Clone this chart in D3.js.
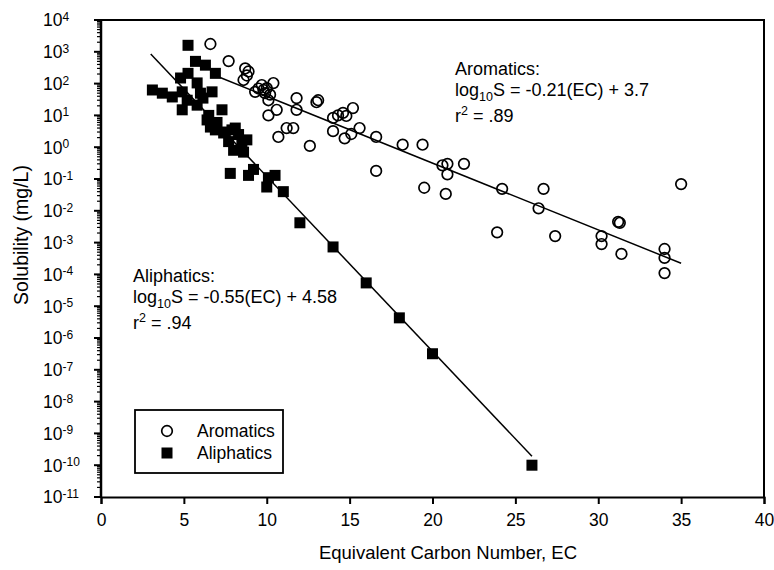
<!DOCTYPE html>
<html lang="en">
<head>
<meta charset="UTF-8">
<title>Solubility vs EC</title>
<script src="https://d3js.org/d3.v7.min.js"></script>
<style>
  body { margin: 0; background: #fff; }
  svg { font-family: "Liberation Sans", Arial, sans-serif; }
  text { fill: #000; }
</style>
</head>
<body>
<svg width="774" height="570"></svg>
<script>
// aromatics (open circles)
var aroEC = [6.6, 7.7, 8.7, 8.9, 8.8, 8.6, 9.3, 9.7, 9.8, 9.9, 10.0, 10.4, 10.1, 10.6, 10.1, 9.5, 10.2,
  11.8, 11.8, 13.0, 13.1, 10.7, 11.2, 11.6, 12.6, 14.0, 14.3, 14.6, 14.8, 15.2, 14.0, 14.7, 15.1, 15.6,
  16.6, 16.6, 18.2, 19.4, 19.5, 20.6, 20.9, 20.9, 20.8, 21.9, 24.2, 23.9, 26.7, 26.4, 27.4, 30.2, 30.2,
  31.2, 31.3, 31.4, 34, 34, 34, 35];
var aroS = [1760, 510, 300, 240, 180, 130, 55, 90, 63, 50, 72, 104, 30, 15, 10, 70, 45,
  35, 15, 26, 30, 2.1, 4, 4, 1.1, 8.3, 10, 12, 9.6, 17, 3.2, 1.9, 2.6, 4,
  2.1, 0.18, 1.2, 1.2, 0.053, 0.27, 0.3, 0.14, 0.034, 0.3, 0.049, 0.0021, 0.049, 0.012, 0.0016, 0.0016, 0.0009,
  0.0045, 0.0042, 0.00044, 0.00063, 0.00033, 0.00011, 0.069];

// aliphatics (filled squares)
var aliEC = [5.25, 5.7, 6.3, 6.9, 5.25, 4.8, 5.8, 3.1, 3.7, 4.3, 4.9, 5.2, 6.0, 6.7, 6.15, 4.9, 7.3, 5.8,
  6.4, 6.6, 6.9, 7.4, 7.9, 8.1, 8.8, 8.0, 8.5, 9.2, 7.8, 8.9, 10.1, 10.0, 10.5, 11.0,
  6.5, 7.0, 7.5, 8.3, 7.7, 8.6, 12, 14, 16, 18, 20, 26];
var aliS = [1600, 500, 380, 210, 210, 150, 105, 63, 50, 38, 55, 30, 50, 55, 35, 15, 15, 21,
  7.2, 4.3, 3.5, 2.8, 3.5, 4, 1.7, 0.8, 1.2, 0.2, 0.15, 0.13, 0.11, 0.056, 0.13, 0.04,
  10, 6, 3, 2.5, 1.5, 0.7, 0.0042, 0.00073, 5.4e-5, 4.3e-6, 3.2e-7, 1e-10];

// regression lines: log10 S = slope*EC + intercept
var fitNames = ["Aromatics", "Aliphatics"];
var fitSlope = [-0.21, -0.55];
var fitIntercept = [3.7, 4.58];
var fitRange = [[7, 35], [3, 26]];
var fitR2 = [".89", ".94"];

var xTicks = [0, 5, 10, 15, 20, 25, 30, 35, 40];
var yExps = d3.range(-11, 5);

var margin = {top: 20, left: 101}, width = 663, height = 477;
var svg = d3.select("svg");
var g = svg.append("g").attr("transform", "translate(" + margin.left + "," + margin.top + ")");

var x = d3.scaleLinear([0, 40], [0, width]);
var y = d3.scaleLog([1e-11, 1e4], [height, 0]);

// frame (top and right)
g.append("path").attr("d", "M0,0H" + width + "V" + height)
  .attr("fill", "none").attr("stroke", "#000").attr("stroke-width", 2);

// x axis
var xa = g.append("g").attr("transform", "translate(0," + height + ")")
  .call(d3.axisBottom(x).tickValues(xTicks).tickSize(7).tickPadding(10));
xa.select(".domain").attr("stroke-width", 2);
xa.selectAll(".tick line").attr("stroke-width", 2);
xa.selectAll("text").attr("font-size", 17.5).attr("font-family", "Liberation Sans, Arial, sans-serif");

// y axis: minor + major ticks, custom labels
var minor = [];
yExps.forEach(function (e) {
  if (e < 4) for (var k = 2; k <= 9; k++) minor.push(k * Math.pow(10, e));
});
g.append("g").selectAll("line").data(minor).join("line")
  .attr("x1", -4).attr("x2", 0)
  .attr("y1", function (d) { return y(d); }).attr("y2", function (d) { return y(d); })
  .attr("stroke", "#000").attr("stroke-width", 1.2);
g.append("g").selectAll("line").data(yExps).join("line")
  .attr("x1", -7).attr("x2", 0)
  .attr("y1", function (d) { return y(Math.pow(10, d)); }).attr("y2", function (d) { return y(Math.pow(10, d)); })
  .attr("stroke", "#000").attr("stroke-width", 2);
g.append("line").attr("x1", 0).attr("x2", 0).attr("y1", 0).attr("y2", height)
  .attr("stroke", "#000").attr("stroke-width", 2.5);

var yl = g.append("g").selectAll("text").data(yExps).join("text")
  .attr("x", -58).attr("y", function (d) { return y(Math.pow(10, d)); })
  .attr("dy", "0.36em").attr("font-size", 17.5);
yl.append("tspan").text("10");
yl.append("tspan").attr("dy", "-0.45em").attr("font-size", 12)
  .text(function (d) { return d; });

// axis titles
svg.append("text").attr("x", 448).attr("y", 559).attr("text-anchor", "middle")
  .attr("font-size", 18.5).text("Equivalent Carbon Number, EC");
svg.append("text").attr("transform", "translate(28,235) rotate(-90)")
  .attr("text-anchor", "middle").attr("font-size", 19.5).text("Solubility (mg/L)");

// fit lines
fitNames.forEach(function (n, i) {
  g.append("line")
    .attr("x1", x(fitRange[i][0])).attr("y1", y(Math.pow(10, fitSlope[i] * fitRange[i][0] + fitIntercept[i])))
    .attr("x2", x(fitRange[i][1])).attr("y2", y(Math.pow(10, fitSlope[i] * fitRange[i][1] + fitIntercept[i])))
    .attr("stroke", "#000").attr("stroke-width", 1.5);
});

// points
g.append("g").selectAll("circle").data(aroEC).join("circle")
  .attr("cx", function (d) { return x(d); })
  .attr("cy", function (d, i) { return y(aroS[i]); })
  .attr("r", 5.3).attr("fill", "none").attr("stroke", "#000").attr("stroke-width", 1.7);
g.append("g").selectAll("rect").data(aliEC).join("rect")
  .attr("x", function (d) { return x(d) - 5.5; })
  .attr("y", function (d, i) { return y(aliS[i]) - 5.5; })
  .attr("width", 11).attr("height", 11).attr("fill", "#000");

// equation annotations
var notePos = [[455, 75], [133, 282]];
fitNames.forEach(function (n, i) {
  var t = svg.append("g").attr("font-size", 18);
  var px = notePos[i][0], py = notePos[i][1];
  t.append("text").attr("x", px).attr("y", py).text(n + ":");
  var eq = t.append("text").attr("x", px).attr("y", py + 21);
  eq.append("tspan").text("log");
  eq.append("tspan").attr("dy", 5).attr("font-size", 12.5).text("10");
  eq.append("tspan").attr("dy", -5).text("S = " + fitSlope[i] + "(EC) + " + fitIntercept[i]);
  var r = t.append("text").attr("x", px).attr("y", py + 47);
  r.append("tspan").text("r");
  r.append("tspan").attr("dy", -7).attr("font-size", 12.5).text("2");
  r.append("tspan").attr("dy", 7).text(" = " + fitR2[i]);
});

// legend
var lg = svg.append("g");
lg.append("rect").attr("x", 135).attr("y", 410).attr("width", 148).attr("height", 63)
  .attr("fill", "#fff").attr("stroke", "#000").attr("stroke-width", 1.8);
lg.append("circle").attr("cx", 167).attr("cy", 431).attr("r", 5.3)
  .attr("fill", "none").attr("stroke", "#000").attr("stroke-width", 1.7);
lg.append("rect").attr("x", 161.5).attr("y", 447.5).attr("width", 11).attr("height", 11).attr("fill", "#000");
lg.append("text").attr("x", 197).attr("y", 437).attr("font-size", 17.5).text(fitNames[0]);
lg.append("text").attr("x", 197).attr("y", 459).attr("font-size", 17.5).text(fitNames[1]);
</script>
</body>
</html>
